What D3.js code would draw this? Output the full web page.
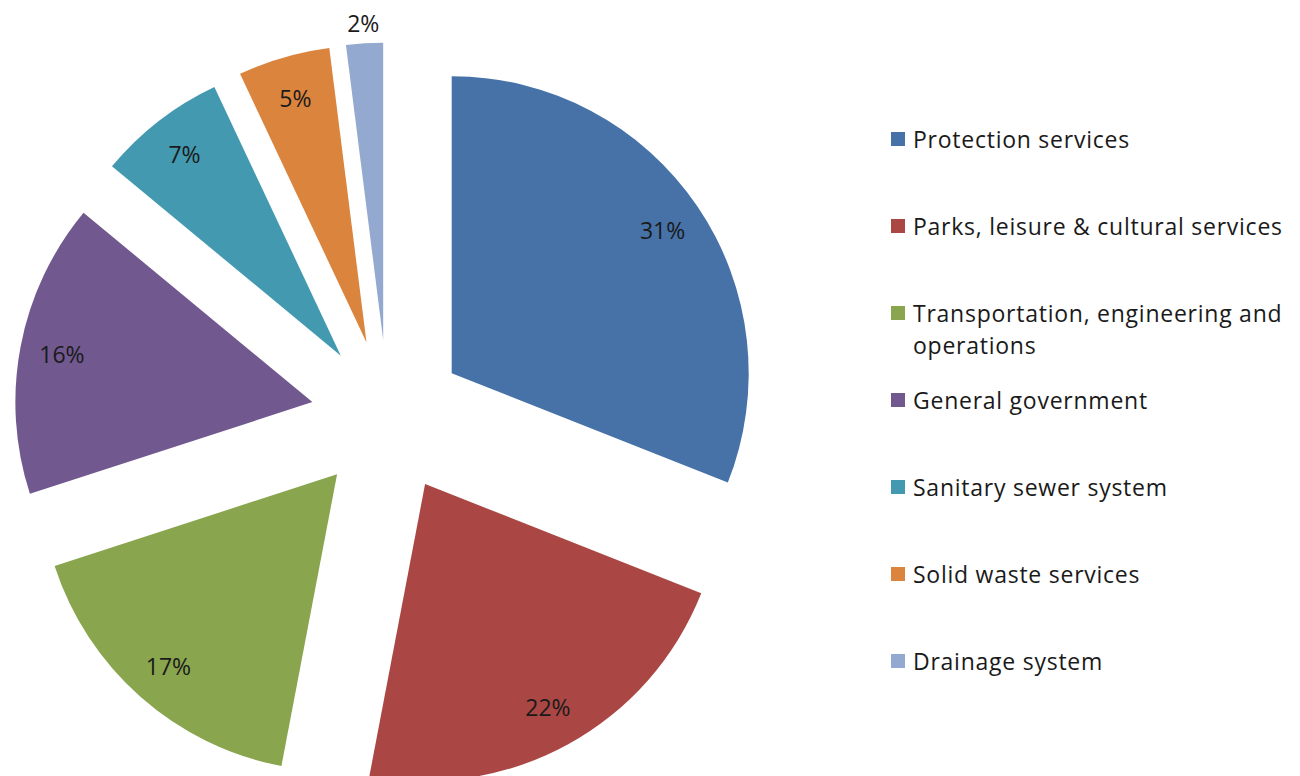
<!DOCTYPE html>
<html>
<head>
<meta charset="utf-8">
<script src="https://cdn.jsdelivr.net/npm/d3@7"></script>
<style>
  html, body { margin: 0; padding: 0; background: #ffffff; }
  svg { display: block; }
  text { font-family: "Open Sans", Lato, sans-serif; fill: #1a1a1a; }
</style>
</head>
<body>
<svg id="chart" width="1300" height="776"></svg>
<script>
// ---- data ----
const categories = [
  "Protection services",
  "Parks, leisure & cultural services",
  "Transportation, engineering and operations",
  "General government",
  "Sanitary sewer system",
  "Solid waste services",
  "Drainage system"
];
const values = [31, 22, 17, 16, 7, 5, 2];
const valueLabels = ["31%", "22%", "17%", "16%", "7%", "5%", "2%"];
const legendLines = [
  ["Protection services"],
  ["Parks, leisure & cultural services"],
  ["Transportation, engineering and", "operations"],
  ["General government"],
  ["Sanitary sewer system"],
  ["Solid waste services"],
  ["Drainage system"]
];
const colors = ["#4672A8", "#AA4744", "#89A54E", "#71588F", "#4299B0", "#DB843D", "#93A9CF"];

// ---- layout ----
const svg = d3.select("#chart");
const cx = 388, cy = 416.5;
const R = 297;
const explode = 77;
const labelR = 255;

const pie = d3.pie().sort(null).value(d => d).startAngle(0).endAngle(2 * Math.PI);
const arcs = pie(values);
const arc = d3.arc().innerRadius(0).outerRadius(R);
const color = d3.scaleOrdinal().domain(d3.range(categories.length)).range(colors);

const g = svg.append("g").attr("transform", `translate(${cx},${cy})`);

function offset(d, dist) {
  const a = (d.startAngle + d.endAngle) / 2;
  return [Math.sin(a) * dist, -Math.cos(a) * dist];
}

const slices = g.selectAll("g.slice").data(arcs).enter().append("g")
  .attr("class", "slice")
  .attr("transform", d => { const [x, y] = offset(d, explode); return `translate(${x},${y})`; });

slices.append("path")
  .attr("d", arc)
  .attr("fill", (d, i) => color(i));

slices.append("text")
  .attr("text-anchor", "middle")
  .attr("dominant-baseline", "central")
  .attr("font-size", 23)
  .attr("transform", d => {
    const small = (d.endAngle - d.startAngle) < 0.2;
    const [x, y] = offset(d, small ? R + 20 : labelR);
    return `translate(${x},${y})`;
  })
  .text((d, i) => valueLabels[i]);

// ---- legend ----
const legendX = 891;
const legendYs = d3.scaleLinear().domain([0, 6]).range([139, 661]);
const legend = svg.append("g");
legendLines.forEach((lines, i) => {
  const y0 = legendYs(i);
  const item = legend.append("g").attr("transform", `translate(${legendX},${y0})`);
  item.append("rect").attr("x", 0).attr("y", -7).attr("width", 14).attr("height", 14)
    .attr("fill", color(i));
  const t = item.append("text").attr("x", 22).attr("y", 0)
    .attr("font-size", 23).attr("letter-spacing", 0.75).attr("dominant-baseline", "central");
  lines.forEach((ln, j) => {
    t.append("tspan").attr("x", 22).attr("dy", j === 0 ? 0 : 32).text(ln);
  });
});
</script>
</body>
</html>
